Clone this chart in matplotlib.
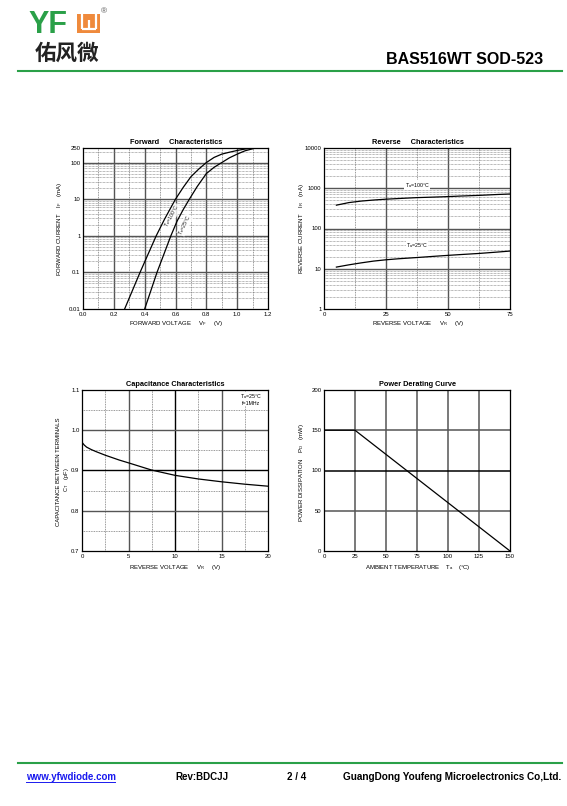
import matplotlib
matplotlib.use("Agg")
import matplotlib.pyplot as plt
from matplotlib.patches import Rectangle
from matplotlib.lines import Line2D

plt.rcParams['font.family'] = ['Liberation Sans', 'Noto Sans CJK SC', 'DejaVu Sans']
plt.rcParams['mathtext.fontset'] = 'custom'
plt.rcParams['mathtext.rm'] = 'Liberation Sans'
plt.rcParams['mathtext.it'] = 'Liberation Sans'
plt.rcParams['mathtext.bf'] = 'Liberation Sans:bold'

# ---------------- data ----------------
# Forward characteristics (V, mA)
vf_100 = [0.27, 0.32, 0.37, 0.42, 0.475, 0.53, 0.60, 0.65, 0.70, 0.75, 0.80, 0.85, 0.90, 0.95, 1.00, 1.05, 1.10]
if_100 = [0.01, 0.0316, 0.1, 0.30, 1.0, 2.9, 10, 21, 41, 66, 100, 138, 170, 192, 214, 234, 250]
vf_25 = [0.40, 0.44, 0.48, 0.525, 0.57, 0.61, 0.65, 0.69, 0.74, 0.80, 0.85, 0.90, 0.95, 1.00, 1.05, 1.12]
if_25 = [0.01, 0.0316, 0.1, 0.316, 1.0, 2.5, 5.2, 10, 21.9, 50, 74, 100, 135, 170, 209, 250]
fwd_xticks = [0.0, 0.2, 0.4, 0.6, 0.8, 1.0, 1.2]
fwd_yticks = [0.01, 0.1, 1, 10, 100, 250]
fwd_ylabels = ['0.01', '0.1', '1', '10', '100', '250']

# Reverse characteristics (V, nA)
vr_100 = [5, 10, 15, 20, 25, 30, 37.5, 45, 50, 55, 62.5, 70, 75]
ir_100 = [380, 440, 480, 510, 535, 555, 585, 605, 620, 640, 665, 700, 720]
vr_25 = [5, 10, 15, 20, 25, 30, 37.5, 45, 50, 55, 62.5, 70, 75]
ir_25 = [11, 12.5, 14, 15.5, 16.7, 17.7, 19, 20.5, 21.5, 22.5, 24, 26, 27.5]
rev_xticks = [0, 25, 50, 75]
rev_yticks = [1, 10, 100, 1000, 10000]

# Capacitance (V, pF)
vc = [0, 0.25, 0.5, 1, 1.5, 2.5, 4, 5, 7.5, 10, 12.5, 15, 17.5, 20]
ct = [0.970, 0.963, 0.958, 0.952, 0.947, 0.938, 0.926, 0.919, 0.901, 0.888, 0.879, 0.872, 0.866, 0.861]
cap_xticks = [0, 5, 10, 15, 20]
cap_yticks = [0.7, 0.8, 0.9, 1.0, 1.1]

# Power derating (degC, mW)
ta = [0, 25, 150]
pd = [150, 150, 0]
pow_xticks = [0, 25, 50, 75, 100, 125, 150]
pow_yticks = [0, 50, 100, 150, 200]

# ---------------- figure ----------------
W, H = 567, 806
fig = plt.figure(figsize=(W / 100, H / 100), dpi=100)


def fx(x):
    return x / W


def fy(y):
    return 1 - y / H


def add_ax(l, t, r, b):
    return fig.add_axes([fx(l), fy(b), (r - l) / W, (b - t) / H])


GRID_MAJ = '#555555'
GRID_MIN = '#777777'
TS = 4.3


def style(ax):
    ax.tick_params(length=0, labelsize=TS, pad=1.8)
    for s in ax.spines.values():
        s.set_linewidth(0.9)
        s.set_color('black')
    ax.set_axisbelow(True)


# ---- Forward ----
ax1 = add_ax(83, 148, 268, 309)
ax1.set_yscale('log')
ax1.set_xlim(0, 1.2)
ax1.set_ylim(0.01, 250)
for v in [0.2, 0.4, 0.6, 0.8, 1.0]:
    ax1.axvline(v, color=GRID_MAJ, lw=1.0, zorder=1)
for v in [0.1, 0.3, 0.5, 0.7, 0.9, 1.1]:
    ax1.axvline(v, color=GRID_MIN, lw=0.6, ls=(0, (1, 1)), zorder=1)
for d in [0.1, 1, 10, 100]:
    ax1.axhline(d, color=GRID_MAJ, lw=1.0, zorder=1)
for d in [0.01, 0.1, 1, 10, 100]:
    for m in range(2, 10):
        val = d * m
        if val < 250:
            ax1.axhline(val, color=GRID_MIN, lw=0.5, ls=(0, (1, 1)), zorder=1)
ax1.plot(vf_100, if_100, color='black', lw=0.9, zorder=3)
ax1.plot(vf_25, if_25, color='black', lw=0.9, zorder=3)
ax1.set_xticks(fwd_xticks)
ax1.set_xticklabels(['%.1f' % v for v in fwd_xticks])
ax1.set_yticks(fwd_yticks)
ax1.set_yticklabels(fwd_ylabels)
ax1.minorticks_off()
style(ax1)
ax1.text(0.578, 3.6, r'T$_\mathregular{a}$=100°C', rotation=62, fontsize=3.8, color='#222222',
         ha='center', va='center', zorder=2,
         bbox=dict(facecolor='white', edgecolor='none', pad=0.05, alpha=0.8))
ax1.text(0.662, 2.0, r'T$_\mathregular{a}$=25°C', rotation=64, fontsize=3.8, color='#222222',
         ha='center', va='center', zorder=2,
         bbox=dict(facecolor='white', edgecolor='none', pad=0.05, alpha=0.8))
fig.text(fx(176), fy(142), 'Forward     Characteristics', fontsize=5.3, weight='bold',
         ha='center', va='center')
fig.text(fx(176), fy(324), r'FORWARD VOLTAGE     V$_\mathregular{F}$     (V)', fontsize=4.3,
         ha='center', va='center')
fig.text(fx(60), fy(229), r'FORWARD CURRENT    $\mathregular{I_F}$    (mA)', fontsize=4.3,
         rotation=90, ha='center', va='center')

# ---- Reverse ----
ax2 = add_ax(324, 148, 510, 309)
ax2.set_yscale('log')
ax2.set_xlim(0, 75)
ax2.set_ylim(1, 10000)
for v in [25, 50]:
    ax2.axvline(v, color=GRID_MAJ, lw=1.0, zorder=1)
for v in [12.5, 37.5, 62.5]:
    ax2.axvline(v, color=GRID_MIN, lw=0.6, ls=(0, (1, 1)), zorder=1)
for d in [10, 100, 1000]:
    ax2.axhline(d, color=GRID_MAJ, lw=1.0, zorder=1)
for d in [1, 10, 100, 1000]:
    for m in range(2, 10):
        ax2.axhline(d * m, color=GRID_MIN, lw=0.5, ls=(0, (1, 1)), zorder=1)
ax2.plot(vr_100, ir_100, color='black', lw=0.9, zorder=3)
ax2.plot(vr_25, ir_25, color='black', lw=0.9, zorder=3)
ax2.set_xticks(rev_xticks)
ax2.set_xticklabels([str(v) for v in rev_xticks])
ax2.set_yticks(rev_yticks)
ax2.set_yticklabels([str(v) for v in rev_yticks])
ax2.minorticks_off()
style(ax2)
ax2.text(37.5, 1200, r'T$_\mathregular{a}$=100°C', fontsize=3.8, ha='center', va='center', zorder=4,
         bbox=dict(facecolor='white', edgecolor='none', pad=0.2))
ax2.text(37.5, 37, r'T$_\mathregular{a}$=25°C', fontsize=3.8, ha='center', va='center', zorder=4,
         bbox=dict(facecolor='white', edgecolor='none', pad=0.2))
fig.text(fx(418), fy(142), 'Reverse     Characteristics', fontsize=5.3, weight='bold',
         ha='center', va='center')
fig.text(fx(418), fy(324), r'REVERSE VOLTAGE     V$_\mathregular{R}$     (V)', fontsize=4.3,
         ha='center', va='center')
fig.text(fx(302), fy(229), r'REVERSE CURRENT    $\mathregular{I_R}$    (nA)', fontsize=4.3,
         rotation=90, ha='center', va='center')

# ---- Capacitance ----
ax3 = add_ax(82, 390, 268, 551)
ax3.set_xlim(0, 20)
ax3.set_ylim(0.7, 1.1)
for v, c in [(5, GRID_MAJ), (10, 'black'), (15, GRID_MAJ)]:
    ax3.axvline(v, color=c, lw=1.0, zorder=1)
for v in [2.5, 7.5, 12.5, 17.5]:
    ax3.axvline(v, color=GRID_MIN, lw=0.6, ls=(0, (1, 1)), zorder=1)
for v, c in [(0.8, GRID_MAJ), (0.9, 'black'), (1.0, GRID_MAJ)]:
    ax3.axhline(v, color=c, lw=1.0, zorder=1)
for v in [0.75, 0.85, 0.95, 1.05]:
    ax3.axhline(v, color=GRID_MIN, lw=0.6, ls=(0, (1, 1)), zorder=1)
ax3.plot(vc, ct, color='black', lw=0.9, zorder=3)
ax3.set_xticks(cap_xticks)
ax3.set_xticklabels([str(v) for v in cap_xticks])
ax3.set_yticks(cap_yticks)
ax3.set_yticklabels(['%.1f' % v for v in cap_yticks])
style(ax3)
ax3.text(18.2, 1.083, r'T$_\mathregular{a}$=25°C', fontsize=3.8, ha='center', va='center', zorder=4,
         bbox=dict(facecolor='white', edgecolor='none', pad=0.2))
ax3.text(18.2, 1.067, 'f=1MHz', fontsize=3.8, ha='center', va='center', zorder=4,
         bbox=dict(facecolor='white', edgecolor='none', pad=0.2))
fig.text(fx(175), fy(384), 'Capacitance Characteristics', fontsize=5.3, weight='bold',
         ha='center', va='center')
fig.text(fx(175), fy(567), r'REVERSE VOLTAGE     V$_\mathregular{R}$     (V)', fontsize=4.3,
         ha='center', va='center')
fig.text(fx(59), fy(472), 'CAPACITANCE BETWEEN TERMINALS', fontsize=4.3,
         rotation=90, ha='center', va='center')
fig.text(fx(66.5), fy(480), r'C$_\mathregular{T}$    (pF)', fontsize=4.1,
         rotation=90, ha='center', va='center')

# ---- Power derating ----
ax4 = add_ax(324, 390, 510, 551)
ax4.set_xlim(0, 150)
ax4.set_ylim(0, 200)
for v in [25, 50, 75, 100, 125]:
    ax4.axvline(v, color=GRID_MAJ, lw=1.1, zorder=1)
for v, c in [(50, GRID_MAJ), (100, 'black'), (150, GRID_MAJ)]:
    ax4.axhline(v, color=c, lw=1.1, zorder=1)
ax4.plot(ta, pd, color='black', lw=0.9, zorder=3)
ax4.set_xticks(pow_xticks)
ax4.set_xticklabels([str(v) for v in pow_xticks])
ax4.set_yticks(pow_yticks)
ax4.set_yticklabels([str(v) for v in pow_yticks])
style(ax4)
fig.text(fx(418), fy(384), 'Power Derating Curve', fontsize=5.3, weight='bold',
         ha='center', va='center')
fig.text(fx(418), fy(567), r'AMBIENT TEMPERATURE    T$_\mathregular{a}$    (°C)', fontsize=4.3,
         ha='center', va='center')
fig.text(fx(302), fy(472), r'POWER DISSIPATION    P$_\mathregular{D}$    (mW)', fontsize=4.3,
         rotation=90, ha='center', va='center')

# ---------------- header ----------------
GREEN = '#2aa048'
ORANGE = '#ef8a3c'
fig.text(fx(28), fy(33), 'YF', fontsize=22, weight='bold', color=GREEN, ha='left', va='baseline')
fig.patches.append(Rectangle((fx(77), fy(33)), 23 / W, 19 / H, transform=fig.transFigure,
                             facecolor=ORANGE, edgecolor='none'))
for (x0, y0, x1, y1) in [(81.5, 14, 81.5, 29), (81.5, 29, 95.5, 29), (95.5, 14, 95.5, 29), (88.5, 20, 88.5, 29)]:
    fig.lines.append(Line2D([fx(x0), fx(x1)], [fy(y0), fy(y1)], transform=fig.transFigure,
                            color='white', lw=1.6, solid_capstyle='butt'))
fig.text(fx(101), fy(12), '®', fontsize=6, color='#555555', ha='left', va='center')
fig.text(fx(67), fy(53), '佑风微', fontsize=15.5, weight='bold', color='#222222',
         family=['Noto Sans CJK SC'], ha='center', va='center')
fig.text(fx(543), fy(60), 'BAS516WT SOD-523', fontsize=11.5, weight='bold', ha='right', va='center')
fig.lines.append(Line2D([fx(18), fx(562)], [fy(71), fy(71)], transform=fig.transFigure,
                        color=GREEN, lw=1.5))

# ---------------- footer ----------------
fig.lines.append(Line2D([fx(18), fx(562)], [fy(763), fy(763)], transform=fig.transFigure,
                        color=GREEN, lw=1.5))
fig.text(fx(26), fy(777), 'www.yfwdiode.com', fontsize=7, weight='bold', color='#1a1aee',
         ha='left', va='center')
fig.lines.append(Line2D([fx(26), fx(115)], [fy(782), fy(782)], transform=fig.transFigure,
                        color='#1a1aee', lw=0.7))
fig.text(fx(175), fy(777), 'Rev:BDCJJ', fontsize=7, weight='bold', ha='left', va='center')
fig.text(fx(287), fy(777), '2 / 4', fontsize=7, weight='bold', ha='left', va='center')
fig.text(fx(343), fy(777), 'GuangDong Youfeng Microelectronics Co,Ltd.', fontsize=7.2, weight='bold',
         ha='left', va='center')

fig.savefig('out.png', dpi=100)
